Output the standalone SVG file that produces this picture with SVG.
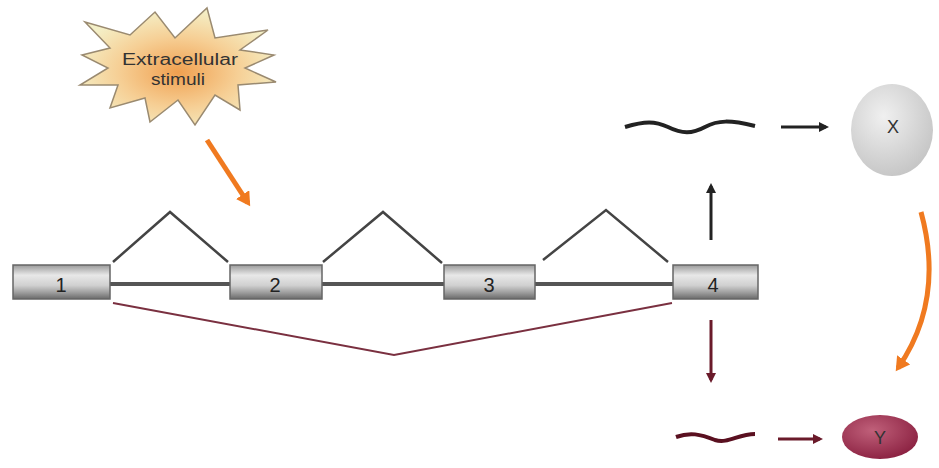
<svg xmlns="http://www.w3.org/2000/svg" width="939" height="468" viewBox="0 0 939 468">
<defs>
<linearGradient id="exonG" x1="0" y1="0" x2="0" y2="1">
<stop offset="0" stop-color="#9a9a9a"/>
<stop offset="0.3" stop-color="#e8e8e8"/>
<stop offset="0.6" stop-color="#d0d0d0"/>
<stop offset="0.8" stop-color="#a0a0a0"/>
<stop offset="1" stop-color="#6a6a6a"/>
</linearGradient>
<radialGradient id="burstG" cx="0.5" cy="0.55" r="0.55">
<stop offset="0" stop-color="#f0a050"/>
<stop offset="0.55" stop-color="#f6cf95"/>
<stop offset="1" stop-color="#f4f0c8"/>
</radialGradient>
<radialGradient id="xG" cx="0.4" cy="0.35" r="0.7">
<stop offset="0" stop-color="#f0f0f0"/>
<stop offset="1" stop-color="#c4c4c4"/>
</radialGradient>
<radialGradient id="yG" cx="0.4" cy="0.35" r="0.7">
<stop offset="0" stop-color="#c0607a"/>
<stop offset="1" stop-color="#8a2040"/>
</radialGradient>
<marker id="ahBlack" markerWidth="10" markerHeight="10" refX="7" refY="5" orient="auto" markerUnits="userSpaceOnUse">
<path d="M0,0 L10,5 L0,10 Z" fill="#222"/>
</marker>
<marker id="ahRed" markerWidth="10" markerHeight="10" refX="7" refY="5" orient="auto" markerUnits="userSpaceOnUse">
<path d="M0,0 L10,5 L0,10 Z" fill="#6a1a2a"/>
</marker>
<marker id="ahOrange" markerWidth="16" markerHeight="16" refX="10" refY="8" orient="auto" markerUnits="userSpaceOnUse">
<path d="M0,0 L14,8 L0,16 Z" fill="#f07a20"/>
</marker>
</defs>
<style>
.exon{fill:url(#exonG);stroke:#666;stroke-width:1.5}
.num{font-family:"Liberation Sans",Arial,sans-serif;font-size:20px;fill:#222;text-anchor:middle}
.intron{fill:none;stroke:#444;stroke-width:2.5;stroke-linejoin:miter}
.lbl{font-family:"Liberation Sans",Arial,sans-serif;fill:#333;text-anchor:middle}
</style>
<rect width="939" height="468" fill="#ffffff"/>

<g id="stimulus">
<polygon points="207,8 215,38 268,30 240,50 274,55 245,68 276,82 238,85 240,110 215,95 195,125 178,100 150,122 145,98 110,108 118,85 80,85 108,68 82,55 110,48 85,22 130,35 155,12 175,38" fill="url(#burstG)" stroke="#9a8a70" stroke-width="1.5" stroke-linejoin="miter"/>
<text class="lbl" x="180" y="65" font-size="16" textLength="116" lengthAdjust="spacingAndGlyphs" fill="#4a4630">Extracellular</text>
<text class="lbl" x="178" y="85" font-size="16" textLength="54" lengthAdjust="spacingAndGlyphs" fill="#4a4630">stimuli</text>
</g>

<g id="connectors">
<line x1="207" y1="140" x2="248" y2="203" stroke="#f07a20" stroke-width="5" marker-end="url(#ahOrange)"/>
<line x1="110" y1="284" x2="673" y2="284" stroke="#555" stroke-width="4"/>
<polyline class="intron" points="113,262 170,212 228,262"/>
<polyline class="intron" points="323,262 383,212 442,263"/>
<polyline class="intron" points="543,260 606,210 668,262"/>
<polyline points="113,303 394,355 672,303" fill="none" stroke="#7a3040" stroke-width="2"/>
<line x1="711" y1="240" x2="711" y2="186" stroke="#222" stroke-width="3" marker-end="url(#ahBlack)"/>
<line x1="711" y1="320" x2="711" y2="380" stroke="#6a1a2a" stroke-width="3" marker-end="url(#ahRed)"/>
<line x1="781" y1="127" x2="826" y2="127" stroke="#222" stroke-width="3" marker-end="url(#ahBlack)"/>
<line x1="778" y1="439" x2="820" y2="439" stroke="#6a1a2a" stroke-width="3" marker-end="url(#ahRed)"/>
<path d="M921,212 Q945,300 898,368" fill="none" stroke="#f07a20" stroke-width="5" marker-end="url(#ahOrange)"/>
</g>

<g id="exon1"><rect class="exon" x="13" y="265" width="97" height="34"/><text class="num" x="61" y="292">1</text></g>
<g id="exon2"><rect class="exon" x="230" y="265" width="92" height="34"/><text class="num" x="275" y="292">2</text></g>
<g id="exon3"><rect class="exon" x="444" y="265" width="91" height="34"/><text class="num" x="489" y="292">3</text></g>
<g id="exon4"><rect class="exon" x="673" y="265" width="85" height="34"/><text class="num" x="713" y="292">4</text></g>

<g id="mrnaX">
<path d="M625,127 C645,121 655,121 668,127 C682,134 692,134 705,127 C718,120 730,120 755,126" fill="none" stroke="#222" stroke-width="4"/>
</g>
<g id="proteinX">
<ellipse cx="892" cy="130" rx="41" ry="46" fill="url(#xG)"/>
<text class="lbl" x="893" y="133" font-size="18">X</text>
</g>
<g id="mrnaY">
<path d="M676,437 C690,432 700,434 715,440 C728,444 738,434 755,434" fill="none" stroke="#5a1020" stroke-width="4"/>
</g>
<g id="proteinY">
<ellipse cx="880" cy="437" rx="38" ry="22" fill="url(#yG)"/>
<text class="lbl" x="880" y="444" font-size="18" fill="#5a1a2a">Y</text>
</g>
</svg>
